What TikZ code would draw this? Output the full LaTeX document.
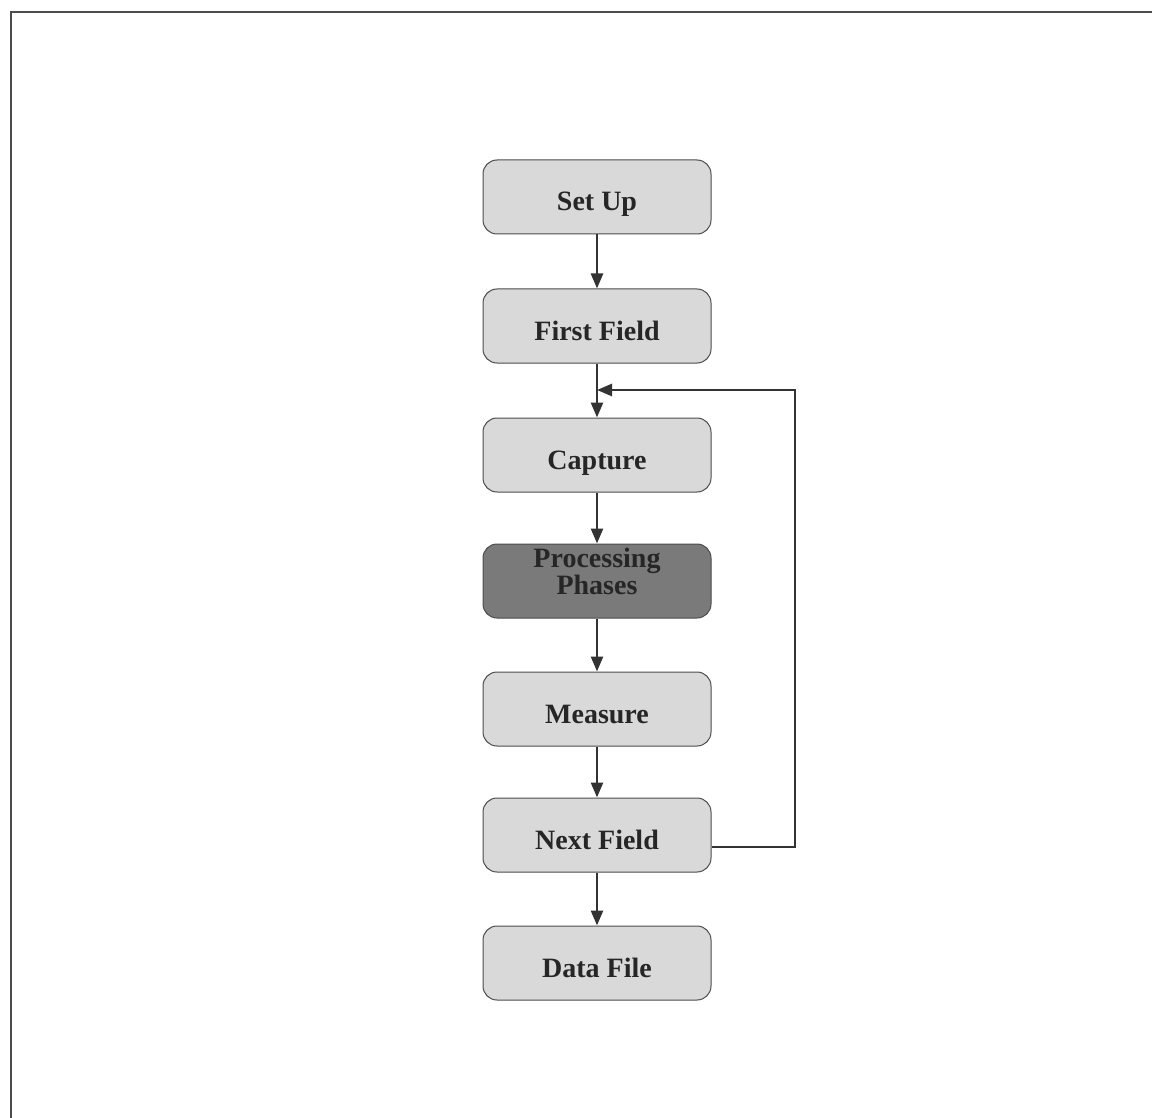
\documentclass[tikz,border=0pt]{standalone}
\usepackage{fontspec}
\setmainfont{Liberation Serif}
\usetikzlibrary{arrows.meta}
\begin{document}
\begin{tikzpicture}[x=1pt,y=-1pt,
  basebox/.style={draw=black!70, line width=1pt, rounded corners=14pt,
    minimum width=228pt, minimum height=74pt, fill=black!15,
    font=\fontsize{28}{25}\selectfont\bfseries, text=black!85, align=center},
  stagebox/.style={basebox, text height=30pt, text depth=2pt},
  darkbox/.style={basebox, fill=black!52},
  flow/.style={draw=black!80, line width=2.6pt,
    -{Triangle[length=15pt,width=12pt]}}]
  % page area and partial frame
  \useasboundingbox (0,0) rectangle (1152,1118);
  \draw[black!70, line width=2.5pt] (11,1118) -- (11,12) -- (1152,12);
  % stages
  \node[stagebox] (setup)   at (597,197) {Set Up};
  \node[stagebox] (first)   at (597,326) {First Field};
  \node[stagebox] (capture) at (597,455) {Capture};
  \node[darkbox]  (proc)    at (597,581)
    {\raisebox{6pt}[\height][\depth]{\begin{tabular}{@{}c@{}}Processing\\Phases\end{tabular}}};
  \node[stagebox] (measure) at (597,709) {Measure};
  \node[stagebox] (next)    at (597,835) {Next Field};
  \node[stagebox] (data)    at (597,963) {Data File};
  % main flow
  \draw[flow] (setup) -- (first);
  \draw[flow] (first) -- (capture);
  \draw[flow] (capture) -- (proc);
  \draw[flow] (proc) -- (measure);
  \draw[flow] (measure) -- (next);
  \draw[flow] (next) -- (data);
  % loop back to capture
  \coordinate (loop) at (597,390);
  \draw[flow] (next.east |- 0,847) -- (795,847) -- (795,390) -- (loop);
\end{tikzpicture}
\end{document}
